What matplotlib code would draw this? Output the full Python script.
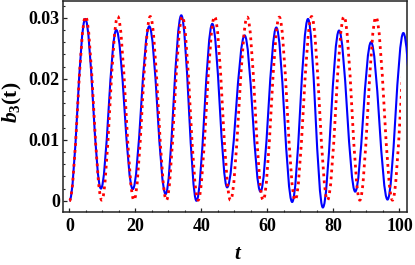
import matplotlib
matplotlib.use("Agg")
import matplotlib.pyplot as plt
from matplotlib.path import Path
from matplotlib.patches import PathPatch, Rectangle
from matplotlib.ticker import MultipleLocator

# turning points (t, b3) - solid blue curve
blue_t = [0.0, 4.8, 9.55, 14.2, 19.2, 24.2, 29.15, 33.9, 38.5, 43.3, 47.8,
          53.1, 57.9, 62.7, 67.5, 72.3, 76.8, 81.7, 86.6, 91.4, 96.4, 101.2, 106.0]
blue_b3 = [0.0, 0.0298, 0.0020, 0.0280, 0.0019, 0.0286, 0.0011, 0.0304, 0.0000, 0.0290, 0.0022,
           0.0271, 0.0015, 0.0284, -0.0002, 0.0298, -0.0011, 0.0279, 0.0015, 0.0260, 0.0002, 0.0275, 0.0010]
# dotted red curve
red_t = [0.0, 4.9, 9.8, 14.65, 19.55, 24.5, 29.4, 34.2, 39.0, 44.0, 48.8,
         53.9, 58.7, 63.6, 68.4, 73.4, 78.2, 83.2, 88.0, 92.9, 97.9, 102.8]
red_b3 = [0.0, 0.0302, 0.0001, 0.0302, 0.0001, 0.0302, 0.0001, 0.0302, 0.0001, 0.0302, 0.0001,
          0.0301, 0.0001, 0.0301, 0.0001, 0.0302, 0.0001, 0.0302, 0.0001, 0.0301, 0.0001, 0.0302]
red_t_end = 100.5

t_ticks = [0, 20, 40, 60, 80, 100]
b3_ticks = [0, 0.01, 0.02, 0.03]
b3_tick_labels = ["0", "0.01", "0.02", "0.03"]

plt.rcParams["mathtext.fontset"] = "custom"
plt.rcParams["mathtext.rm"] = "Liberation Serif:bold"
plt.rcParams["mathtext.it"] = "Liberation Serif:italic:bold"
plt.rcParams["mathtext.bf"] = "Liberation Serif:bold"
SERIF = dict(family="Liberation Serif", weight="bold")


def smooth_path(ts, vs, k=0.364):
    # cubic bezier between turning points, flat tangent at each one
    verts = [(ts[0], vs[0])]
    codes = [Path.MOVETO]
    for t0, v0, t1, v1 in zip(ts[:-1], vs[:-1], ts[1:], vs[1:]):
        dt = t1 - t0
        verts += [(t0 + k*dt, v0), (t1 - k*dt, v1), (t1, v1)]
        codes += [Path.CURVE4]*3
    return Path(verts, codes)


fig = plt.figure(figsize=(4.15, 2.65), dpi=100)
ax = fig.add_axes([0.151, 0.201, 0.8305, 0.795])
ax.set_xlim(-2.05, 102.4)
ax.set_ylim(-0.0018, 0.03274)

ax.add_patch(PathPatch(smooth_path(blue_t, blue_b3), facecolor="none", edgecolor="#0000ff",
                       lw=1.5, zorder=3))
red = PathPatch(smooth_path(red_t, red_b3), facecolor="none", edgecolor="#ff0000",
                lw=2.0, linestyle=(0, (1.0, 1.5)), capstyle="butt", zorder=4)
ax.add_patch(red)
red.set_clip_path(Rectangle((-10, -1), red_t_end + 10, 2, transform=ax.transData))

ax.set_xticks(t_ticks)
ax.set_xticklabels([str(v) for v in t_ticks], **SERIF, fontsize=13)
ax.set_yticks(b3_ticks)
ax.set_yticklabels(b3_tick_labels, **SERIF, fontsize=13)
ax.xaxis.set_minor_locator(MultipleLocator(5))
ax.yaxis.set_minor_locator(MultipleLocator(0.002))
ax.tick_params(which="both", direction="in", top=False, right=False, color="#222222")
ax.tick_params(which="major", length=3.2, width=0.9)
ax.tick_params(which="minor", length=1.7, width=0.8)
ax.tick_params(axis="x", pad=4.5)
ax.tick_params(axis="y", pad=2)
for s in ax.spines.values():
    s.set_linewidth(1.1)
    s.set_color("#222222")

fig.text(238/415, 1 - 253/265, r"$t$", fontsize=15, ha="center", va="center")
fig.text(12/415, 1 - 102/265, r"$b_3\mathrm{(t)}$", fontsize=15.5, rotation=90,
         ha="center", va="center")

fig.savefig("out.png", dpi=100)
